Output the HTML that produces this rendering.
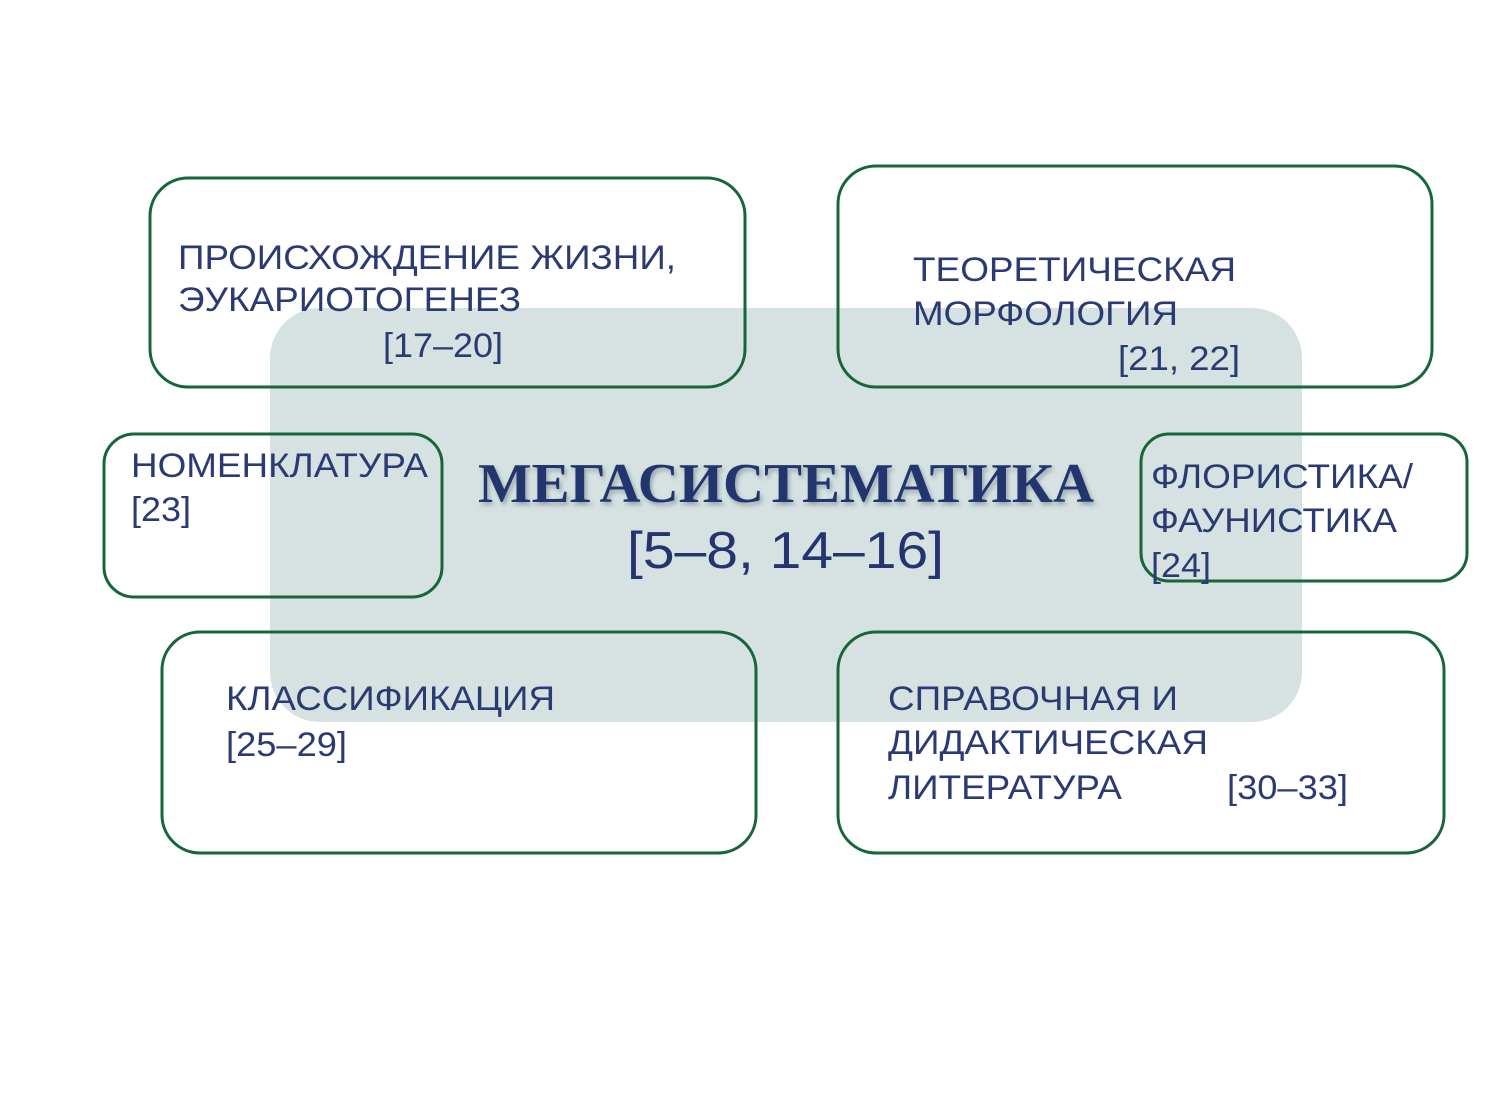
<!DOCTYPE html>
<html><head><meta charset="utf-8"><style>html,body{margin:0;padding:0;background:#fff}svg{display:block}</style></head>
<body>
<svg width="1486" height="1105" viewBox="0 0 1486 1105" xmlns="http://www.w3.org/2000/svg">
<defs><filter id="sh" x="-10%" y="-30%" width="120%" height="160%"><feDropShadow dx="2" dy="3" stdDeviation="2" flood-color="#6a7a8a" flood-opacity="0.6"/></filter></defs>
<rect x="270" y="308" width="1032" height="414" rx="50" fill="#d5e2e1"/>
<g fill="none" stroke="#17653a" stroke-width="3">
<rect x="150" y="178" width="595" height="209" rx="38"/>
<rect x="838" y="166" width="594" height="221" rx="38"/>
<rect x="104" y="434" width="338" height="163" rx="30"/>
<rect x="1141" y="434" width="326" height="147" rx="28"/>
<rect x="162" y="632" width="594" height="221" rx="38"/>
<rect x="838" y="632" width="606" height="221" rx="38"/>
</g>
<g font-family="Liberation Sans, sans-serif" font-size="34" fill="#2a3a72" lengthAdjust="spacingAndGlyphs">
<text x="178" y="269" textLength="498" lengthAdjust="spacingAndGlyphs">ПРОИСХОЖДЕНИЕ ЖИЗНИ,</text>
<text x="178" y="311" textLength="343" lengthAdjust="spacingAndGlyphs">ЭУКАРИОТОГЕНЕЗ</text>
<text x="383" y="357" textLength="120" lengthAdjust="spacingAndGlyphs">[17–20]</text>
<text x="913" y="281" textLength="323" lengthAdjust="spacingAndGlyphs">ТЕОРЕТИЧЕСКАЯ</text>
<text x="913" y="325" textLength="265" lengthAdjust="spacingAndGlyphs">МОРФОЛОГИЯ</text>
<text x="1118" y="370" textLength="122" lengthAdjust="spacingAndGlyphs">[21, 22]</text>
<text x="131" y="477" textLength="297" lengthAdjust="spacingAndGlyphs">НОМЕНКЛАТУРА</text>
<text x="131" y="521" textLength="60" lengthAdjust="spacingAndGlyphs">[23]</text>
<text x="1151" y="488" textLength="262" lengthAdjust="spacingAndGlyphs">ФЛОРИСТИКА/</text>
<text x="1151" y="532" textLength="246" lengthAdjust="spacingAndGlyphs">ФАУНИСТИКА</text>
<text x="1151" y="577" textLength="60" lengthAdjust="spacingAndGlyphs">[24]</text>
<text x="226" y="710" textLength="329" lengthAdjust="spacingAndGlyphs">КЛАССИФИКАЦИЯ</text>
<text x="226" y="756" textLength="121" lengthAdjust="spacingAndGlyphs">[25–29]</text>
<text x="888" y="710" textLength="290" lengthAdjust="spacingAndGlyphs">СПРАВОЧНАЯ И</text>
<text x="888" y="754" textLength="320" lengthAdjust="spacingAndGlyphs">ДИДАКТИЧЕСКАЯ</text>
<text x="888" y="799" textLength="234" lengthAdjust="spacingAndGlyphs">ЛИТЕРАТУРА</text>
<text x="1227" y="799" textLength="121" lengthAdjust="spacingAndGlyphs">[30–33]</text>
</g>
<text x="478" y="502" font-family="Liberation Serif, serif" font-weight="bold" font-size="56" fill="#23346e" filter="url(#sh)" textLength="616" lengthAdjust="spacingAndGlyphs">МЕГАСИСТЕМАТИКА</text>
<text x="627" y="568" font-family="Liberation Sans, sans-serif" font-size="52" fill="#23346e" textLength="317" lengthAdjust="spacingAndGlyphs">[5–8, 14–16]</text>
</svg>
</body></html>
